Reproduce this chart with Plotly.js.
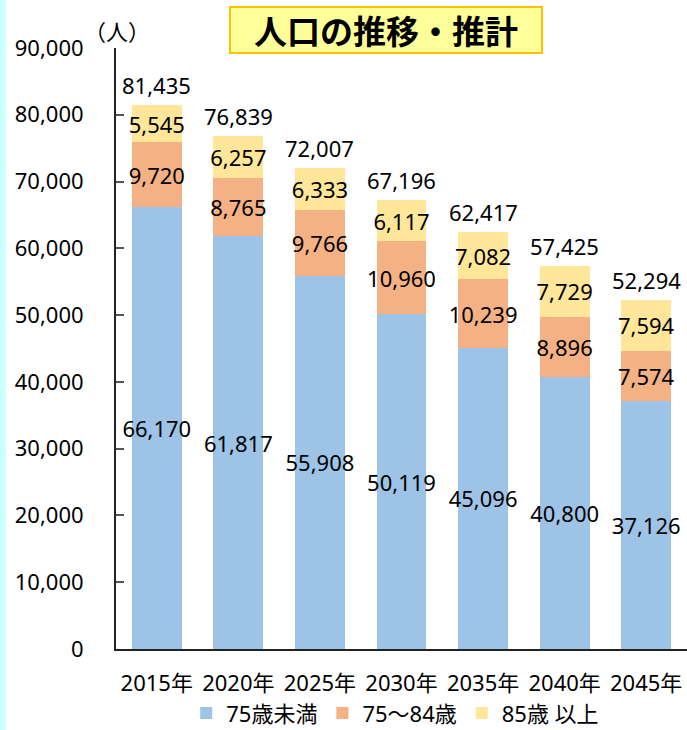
<!DOCTYPE html>
<html>
<head>
<meta charset="utf-8">
<script src="https://cdn.plot.ly/plotly-3.0.1.min.js"></script>
<style>
html,body{margin:0;padding:0;background:#fff;}
#strip{position:absolute;left:0;top:0;width:6px;height:730px;background:#CCFFFF;z-index:5;}
#chart{width:687px;height:730px;}
</style>
</head>
<body>
<div id="strip"></div>
<div id="chart"></div>
<script>
const years = ["2015年","2020年","2025年","2030年","2035年","2040年","2045年"];
const under75 = [66170, 61817, 55908, 50119, 45096, 40800, 37126];
const age75to84 = [9720, 8765, 9766, 10960, 10239, 8896, 7574];
const over85 = [5545, 6257, 6333, 6117, 7082, 7729, 7594];
const totals = [81435, 76839, 72007, 67196, 62417, 57425, 52294];
const seriesNames = ["75歳未満", "75～84歳", "85歳 以上"];
const yTicks = [0, 10000, 20000, 30000, 40000, 50000, 60000, 70000, 80000, 90000];

const FONT = "'Noto Sans', 'Noto Sans CJK JP', sans-serif";
const colors = ["#9DC3E6", "#F4B183", "#FFE699"];
const series = [under75, age75to84, over85];

const traces = series.map((vals, i) => ({
  type: "bar",
  name: seriesNames[i],
  x: years,
  y: vals,
  marker: {color: colors[i], line: {width: 0}},
  text: vals.map(v => v.toLocaleString("en-US")),
  textposition: "inside",
  insidetextanchor: "middle",
  textangle: 0,
  constraintext: "none",
  textfont: {family: FONT, size: 22, color: "#000"},
  hoverinfo: "x+y+name"
}));

const annotations = years.map((yr, i) => ({
  x: yr, y: totals[i], xref: "x", yref: "y",
  text: totals[i].toLocaleString("en-US"),
  showarrow: false, yanchor: "bottom", yshift: 3,
  font: {family: FONT, size: 22, color: "#000"}
}));

annotations.push({
  xref: "paper", yref: "paper", x: 0.473, y: 1.03,
  xanchor: "center", yanchor: "middle",
  text: "<b>人口の推移・推計</b>",
  showarrow: false,
  font: {family: "'Noto Sans CJK JP', sans-serif", size: 33, color: "#000"},
  bgcolor: "#FFFF99", bordercolor: "#FFC000", borderwidth: 2,
  width: 308, height: 42
});
annotations.push({
  xref: "paper", yref: "paper", x: 0.002, y: 1.03,
  xanchor: "center", yanchor: "middle",
  text: "（人）", showarrow: false,
  font: {family: "'Noto Sans CJK JP', sans-serif", size: 22, color: "#000"}
});

const layout = {
  width: 687, height: 730,
  margin: {l: 116, r: 0, t: 48, b: 81, pad: 0, autoexpand: false},
  paper_bgcolor: "#fff", plot_bgcolor: "#fff",
  barmode: "stack",
  bargap: 0.39,
  showlegend: true,
  legend: {
    orientation: "h", xanchor: "center", x: 0.489, yanchor: "middle", y: -0.107,
    font: {family: FONT, size: 22, color: "#000"},
    traceorder: "normal", itemwidth: 30, bgcolor: "rgba(0,0,0,0)"
  },
  xaxis: {
    type: "category",
    showline: true, linecolor: "#222", linewidth: 2,
    ticks: "", showgrid: false, zeroline: false,
    tickfont: {family: FONT, size: 22, color: "#000"},
    ticklabelstandoff: 14, automargin: false
  },
  yaxis: {
    range: [0, 90000],
    tickvals: yTicks,
    ticktext: yTicks.map(v => v.toLocaleString("en-US")),
    showline: true, linecolor: "#222", linewidth: 2,
    ticks: "inside", ticklen: 8, tickcolor: "#555", tickwidth: 1.5,
    showgrid: false, zeroline: false,
    tickfont: {family: FONT, size: 22, color: "#000"},
    ticklabelstandoff: 26, automargin: false
  },
  annotations: annotations
};

Plotly.newPlot("chart", traces, layout, {displayModeBar: false, responsive: false});
</script>
</body>
</html>
